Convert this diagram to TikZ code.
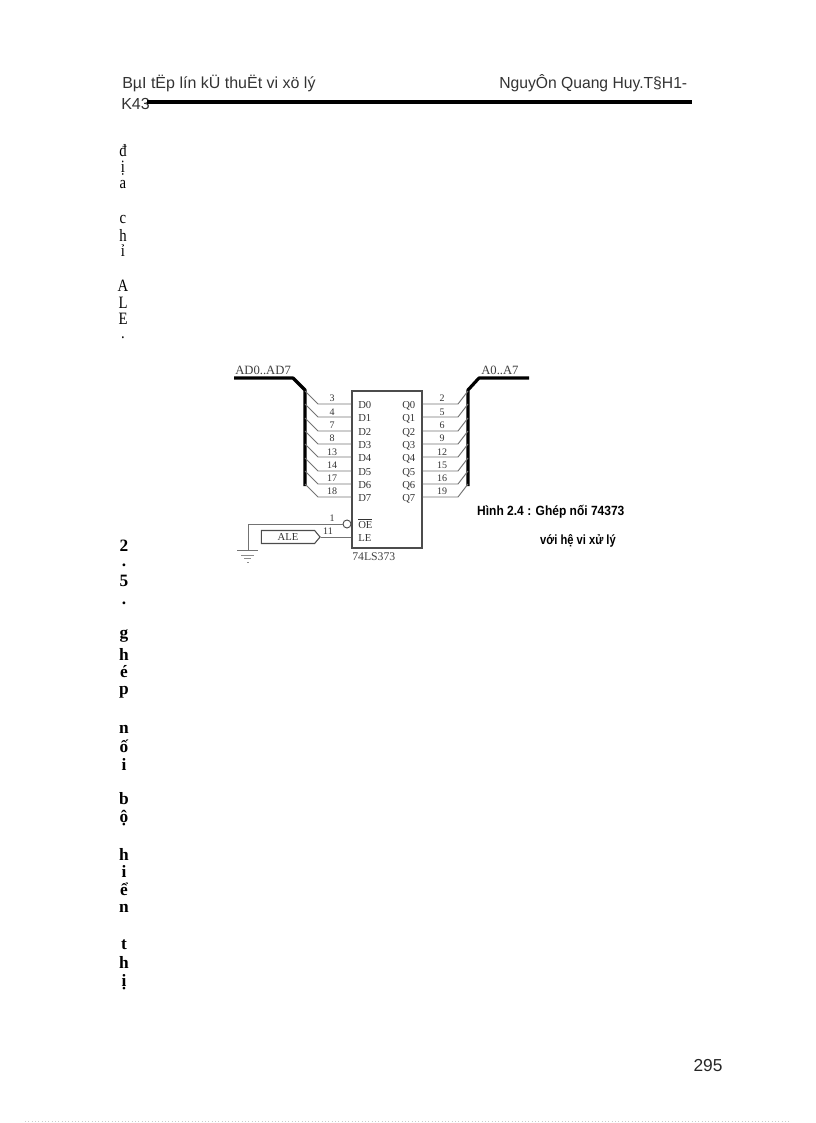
\documentclass[tikz,border=0pt]{standalone}
\usepackage{fontspec}
\setmainfont{Liberation Serif}
\setsansfont{Liberation Sans}
\usetikzlibrary{shapes.symbols}
\tikzset{
	pinwire/.style={draw=black!55,line width=0.7pt},
	busline/.style={line width=2.4pt,line join=round},
	pinname/.style={font=\fontsize{8}{8}\selectfont,text=black!80,inner sep=0pt,anchor=base west},
	pinnum/.style={font=\fontsize{7.5}{8}\selectfont,text=black!80,inner sep=0pt,anchor=base},
	busname/.style={font=\fontsize{9.5}{10}\selectfont,text=black!75,inner sep=0pt},
	letter/.style={font=\fontsize{13}{14}\selectfont,inner sep=0pt,xscale=0.85},
	boldletter/.style={font=\fontsize{13}{14}\selectfont\bfseries,inner sep=0pt},
	headtext/.style={font=\sffamily\fontsize{12}{14}\selectfont,text=black!80,anchor=west,inner sep=0pt},
	captext/.style={font=\sffamily\bfseries\fontsize{10}{11}\selectfont,anchor=west,inner sep=0pt,xscale=0.9}
}
\begin{document}
\begin{tikzpicture}[x=0.75pt,y=-0.75pt]
	\useasboundingbox (0,0) rectangle (816,1123);
	% header
	\node[headtext] (headl) at (122,83) {BµI tËp lín kÜ thuËt vi xö lý};
	\node[headtext,xscale=0.98] (headr) at (499,83) {NguyÔn Quang Huy.T§H1-};
	\node[headtext] (headk) at (121,104) {K43};
	\draw[line width=3pt] (147,102) -- (692,102);
	% letters on the left
	\node[letter] (a1) at (123,151) {đ};
	\node[letter] (a2) at (123,168) {ị};
	\node[letter] (a3) at (123,185) {a};
	\node[letter] (a4) at (123,220) {c};
	\node[letter] (a5) at (123,235) {h};
	\node[letter] (a6) at (123,251) {ỉ};
	\node[letter] (a7) at (123,286) {A};
	\node[letter] (a8) at (123,303) {L};
	\node[letter] (a9) at (123,319) {E};
	\node[letter] (a10) at (123,338) {.};
	\node[boldletter] (b1) at (124,546) {2};
	\node[boldletter] (b2) at (124,565) {.};
	\node[boldletter] (b3) at (124,581) {5};
	\node[boldletter] (b4) at (124,603) {.};
	\node[boldletter] (b5) at (124,636) {g};
	\node[boldletter] (b6) at (124,654) {h};
	\node[boldletter] (b7) at (124,672) {é};
	\node[boldletter] (b8) at (124,692) {p};
	\node[boldletter] (b9) at (124,729) {n};
	\node[boldletter] (b10) at (124,746) {ố};
	\node[boldletter] (b11) at (124,764) {i};
	\node[boldletter] (b12) at (124,799) {b};
	\node[boldletter] (b13) at (124,818) {ộ};
	\node[boldletter] (b14) at (124,854) {h};
	\node[boldletter] (b15) at (124,871) {i};
	\node[boldletter] (b16) at (124,889) {ể};
	\node[boldletter] (b17) at (124,908) {n};
	\node[boldletter] (b18) at (124,945) {t};
	\node[boldletter] (b19) at (124,962) {h};
	\node[boldletter] (b20) at (124,982) {ị};
	% the chip
	\node[draw=black!70,line width=0.9pt,minimum width=52.5pt,minimum height=117.75pt,inner sep=0pt] (ic) at (387,469.5) {};
	\node[font=\fontsize{8.8}{9}\selectfont,text=black!75,anchor=west,inner sep=0pt] (icname) at (352,557) {74LS373};
	\node[pinname] (d0) at (358,408) {D0};
	\node[pinname] (d1) at (358,421) {D1};
	\node[pinname] (d2) at (358,435) {D2};
	\node[pinname] (d3) at (358,448) {D3};
	\node[pinname] (d4) at (358,461) {D4};
	\node[pinname] (d5) at (358,475) {D5};
	\node[pinname] (d6) at (358,488) {D6};
	\node[pinname] (d7) at (358,501) {D7};
	\node[pinname] (q0) at (402,408) {Q0};
	\node[pinname] (q1) at (402,421) {Q1};
	\node[pinname] (q2) at (402,435) {Q2};
	\node[pinname] (q3) at (402,448) {Q3};
	\node[pinname] (q4) at (402,461) {Q4};
	\node[pinname] (q5) at (402,475) {Q5};
	\node[pinname] (q6) at (402,488) {Q6};
	\node[pinname] (q7) at (402,501) {Q7};
	\node[pinname] (oe) at (358,528) {$\overline{\hbox{OE}}$};
	\node[pinname] (le) at (358,541) {LE};
	% buses
	\coordinate (ladl) at (234,378);
	\coordinate (ladk) at (293,378);
	\coordinate (ladt) at (305,390);
	\coordinate (ladb) at (305,486);
	\coordinate (radb) at (468,486);
	\coordinate (radt) at (468,390);
	\coordinate (radk) at (479,378);
	\coordinate (radr) at (529,378);
	\draw[busline] (ladl) -- (ladk) -- (ladt) -- (ladb);
	\draw[busline] (radb) -- (radt) -- (radk) -- (radr);
	\node[busname,anchor=west] (adname) at (235,370) {AD0..AD7};
	\node[busname,anchor=west] (aname) at (481,370) {A0..A7};
	% left wires
	\coordinate (l0) at (305,391);
	\coordinate (l1) at (305,404);
	\coordinate (l2) at (305,418);
	\coordinate (l3) at (305,431);
	\coordinate (l4) at (305,444);
	\coordinate (l5) at (305,458);
	\coordinate (l6) at (305,471);
	\coordinate (l7) at (305,484);
	\draw[pinwire] (l0) -- ++(13,13) -- (ic.west |- 0,404);
	\draw[pinwire] (l1) -- ++(13,13) -- (ic.west |- 0,417);
	\draw[pinwire] (l2) -- ++(13,13) -- (ic.west |- 0,431);
	\draw[pinwire] (l3) -- ++(13,13) -- (ic.west |- 0,444);
	\draw[pinwire] (l4) -- ++(13,13) -- (ic.west |- 0,457);
	\draw[pinwire] (l5) -- ++(13,13) -- (ic.west |- 0,471);
	\draw[pinwire] (l6) -- ++(13,13) -- (ic.west |- 0,484);
	\draw[pinwire] (l7) -- ++(13,13) -- (ic.west |- 0,497);
	% right wires
	\coordinate (r0) at (468,391);
	\coordinate (r1) at (468,404);
	\coordinate (r2) at (468,418);
	\coordinate (r3) at (468,431);
	\coordinate (r4) at (468,444);
	\coordinate (r5) at (468,458);
	\coordinate (r6) at (468,471);
	\coordinate (r7) at (468,484);
	\draw[pinwire] (r0) -- ++(-10,13) -- (ic.east |- 0,404);
	\draw[pinwire] (r1) -- ++(-10,13) -- (ic.east |- 0,417);
	\draw[pinwire] (r2) -- ++(-10,13) -- (ic.east |- 0,431);
	\draw[pinwire] (r3) -- ++(-10,13) -- (ic.east |- 0,444);
	\draw[pinwire] (r4) -- ++(-10,13) -- (ic.east |- 0,457);
	\draw[pinwire] (r5) -- ++(-10,13) -- (ic.east |- 0,471);
	\draw[pinwire] (r6) -- ++(-10,13) -- (ic.east |- 0,484);
	\draw[pinwire] (r7) -- ++(-10,13) -- (ic.east |- 0,497);
	% pin numbers
	\node[pinnum] (n3) at (332,401) {3};
	\node[pinnum] (n4) at (332,415) {4};
	\node[pinnum] (n7) at (332,428) {7};
	\node[pinnum] (n8) at (332,441) {8};
	\node[pinnum] (n13) at (332,455) {13};
	\node[pinnum] (n14) at (332,468) {14};
	\node[pinnum] (n17) at (332,481) {17};
	\node[pinnum] (n18) at (332,494) {18};
	\node[pinnum] (n2) at (442,401) {2};
	\node[pinnum] (n5) at (442,415) {5};
	\node[pinnum] (n6) at (442,428) {6};
	\node[pinnum] (n9) at (442,441) {9};
	\node[pinnum] (n12) at (442,455) {12};
	\node[pinnum] (n15) at (442,468) {15};
	\node[pinnum] (n16) at (442,481) {16};
	\node[pinnum] (n19) at (442,494) {19};
	\node[pinnum] (n1) at (332,521) {1};
	\node[pinnum] (n11) at (328,534) {11};
	% OE, ground and ALE
	\node[draw=black!70,line width=0.7pt,circle,minimum size=6pt,inner sep=0pt] (bubble) at (347,524) {};
	\coordinate (gnd) at (248,550);
	\draw[pinwire] (bubble.west) -| (gnd);
	\draw[pinwire] (237,550) -- (258,550);
	\draw[draw=black!45,line width=0.6pt] (241,555) -- (254,555);
	\draw[draw=black!45,line width=0.6pt] (244,558) -- (251,558);
	\draw[draw=black!45,line width=0.6pt] (247,562) -- (249,562);
	\node[draw=black!70,line width=0.8pt,signal,signal to=east,signal pointer angle=100,minimum width=44pt,minimum height=9.75pt,inner sep=0pt,font=\fontsize{8}{8}\selectfont,text=black!80] (ale) at (288,537) {ALE};
	\draw[pinwire] (ale.east) -- (ic.west |- 0,537);
	% caption
	\node[captext] (cap1) at (477,512) {Hình 2.4 : Ghép nối 74373};
	\node[captext,xscale=0.93] (cap2) at (540,541) {với hệ vi xử lý};
	% page number
	\node[font=\sffamily\fontsize{13}{14}\selectfont,text=black!85,inner sep=0pt] (page) at (708,1066) {295};
	\draw[black!20,line width=0.5pt,dotted] (25,1121) -- (790,1121);
\end{tikzpicture}
\end{document}
